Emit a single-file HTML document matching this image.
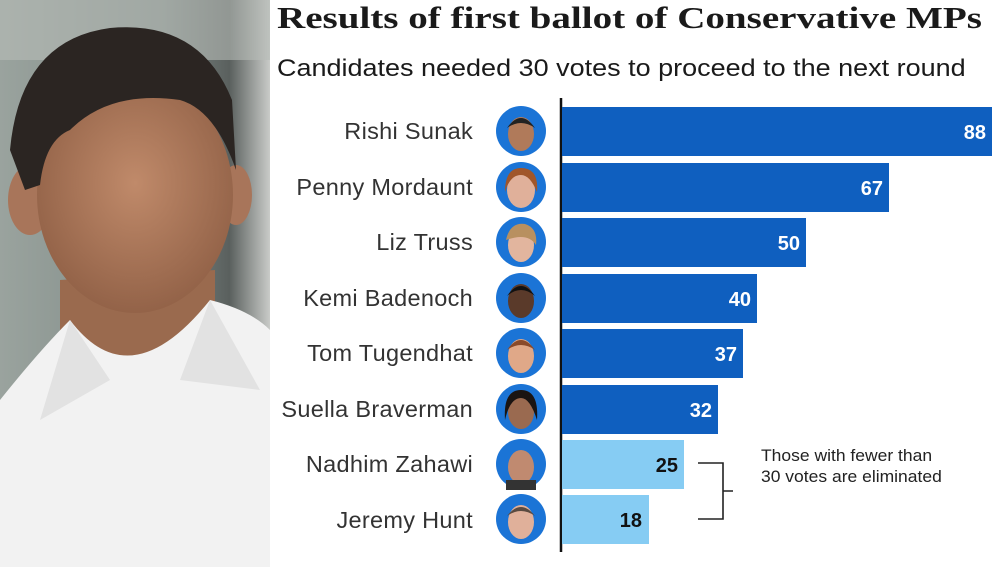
<!DOCTYPE html>
<html><head><meta charset="utf-8"><style>
html,body{margin:0;padding:0;background:#fff;}
body{width:1000px;height:567px;overflow:hidden;position:relative;font-family:"Liberation Sans",sans-serif;}
</style></head><body>
<svg width="1000" height="567" viewBox="0 0 1000 567" xmlns="http://www.w3.org/2000/svg" style="position:absolute;left:0;top:0">
<defs>
<linearGradient id="bg" x1="0" x2="1" y1="0" y2="0">
<stop offset="0" stop-color="#9aa39e"/><stop offset="0.6" stop-color="#7f8a86"/><stop offset="0.85" stop-color="#5a605e"/><stop offset="1" stop-color="#c9cbc8"/></linearGradient>
<radialGradient id="skin" cx="0.5" cy="0.45" r="0.6"><stop offset="0" stop-color="#c08a6a"/><stop offset="1" stop-color="#8f5f45"/></radialGradient>
<clipPath id="pc"><rect x="0" y="0" width="270" height="567"/></clipPath>
</defs>
<g clip-path="url(#pc)">
<rect x="0" y="0" width="270" height="567" fill="url(#bg)"/>
<rect x="0" y="0" width="270" height="60" fill="#b7bcb8" opacity="0.6"/>
<path d="M60 280 L60 360 Q135 420 215 350 L215 270 Z" fill="#9a6a4e"/>
<ellipse cx="30" cy="200" rx="22" ry="35" fill="#a8755a"/>
<ellipse cx="236" cy="195" rx="16" ry="30" fill="#a8755a"/>
<ellipse cx="135" cy="195" rx="98" ry="118" fill="url(#skin)"/>
<path d="M10 150 Q20 40 110 28 Q200 20 232 100 L236 170 Q215 110 180 100 Q110 90 70 130 Q45 140 40 185 L25 190 Z" fill="#2b2522"/>
<path d="M0 567 L0 400 Q40 350 70 320 Q130 400 210 300 Q250 310 270 330 L270 567 Z" fill="#f2f2f2"/>
<path d="M70 320 L40 420 L110 380 Z M210 300 L260 390 L180 380 Z" fill="#e2e2e2"/>
</g>
<text transform="translate(277,28) scale(1.26,1)" font-family="Liberation Serif,serif" font-weight="bold" font-size="31" fill="#1a1a1a">Results of first ballot of Conservative MPs</text>
<text transform="translate(277,76) scale(1.125,1)" font-family="Liberation Sans,sans-serif" font-size="24" fill="#1a1a1a">Candidates needed 30 votes to proceed to the next round</text>
<line x1="561" y1="98" x2="561" y2="552" stroke="#111" stroke-width="2.5"/>
<g font-family="Liberation Sans,sans-serif">
<g font-size="23.5" fill="#333" text-anchor="end" letter-spacing="0.3">
<text x="473" y="139">Rishi Sunak</text>
<text x="473" y="195">Penny Mordaunt</text>
<text x="473" y="250">Liz Truss</text>
<text x="473" y="306">Kemi Badenoch</text>
<text x="473" y="361">Tom Tugendhat</text>
<text x="473" y="417">Suella Braverman</text>
<text x="473" y="472">Nadhim Zahawi</text>
<text x="473" y="528">Jeremy Hunt</text>
</g>
<g fill="#1b74d6">
<circle cx="521" cy="131" r="25"/><circle cx="521" cy="187" r="25"/><circle cx="521" cy="242" r="25"/><circle cx="521" cy="298" r="25"/>
<circle cx="521" cy="353" r="25"/><circle cx="521" cy="409" r="25"/><circle cx="521" cy="464" r="25"/><circle cx="521" cy="519" r="25"/>
</g>
<g>
<ellipse cx="521" cy="134" rx="13" ry="17" fill="#b07a5a"/><path d="M507 128 Q521 108 535 128 Q521 118 507 128Z" fill="#222"/>
<ellipse cx="521" cy="190" rx="14" ry="18" fill="#e0b09a"/><path d="M505 192 Q505 168 521 168 Q539 168 537 192 Q530 175 521 175 Q510 175 505 192Z" fill="#a0562a"/>
<ellipse cx="521" cy="245" rx="13" ry="17" fill="#e2b59e"/><path d="M506 240 Q510 222 525 224 Q538 228 536 245 Q528 232 506 240Z" fill="#b89060"/>
<ellipse cx="521" cy="301" rx="13" ry="17" fill="#5a3a2a"/><path d="M507 296 Q521 276 535 296 Q521 284 507 296Z" fill="#111"/>
<ellipse cx="521" cy="356" rx="13" ry="17" fill="#e0a888"/><path d="M507 350 Q521 330 535 350 Q521 340 507 350Z" fill="#8a4a2a"/>
<ellipse cx="521" cy="412" rx="13" ry="17" fill="#9a6a50"/><path d="M505 420 Q503 390 521 390 Q539 390 537 420 Q530 398 521 398 Q510 398 505 420Z" fill="#1a1412"/>
<ellipse cx="521" cy="467" rx="13" ry="17" fill="#c08a70"/><rect x="506" y="480" width="30" height="10" fill="#333"/>
<ellipse cx="521" cy="522" rx="13" ry="17" fill="#e0b09a"/><path d="M507 516 Q521 498 535 516 Q521 506 507 516Z" fill="#5a4a40"/>
</g>
<g fill="#0f5fbf">
<rect x="562" y="107" width="430" height="49"/>
<rect x="562" y="163" width="327" height="49"/>
<rect x="562" y="218" width="244" height="49"/>
<rect x="562" y="274" width="195" height="49"/>
<rect x="562" y="329" width="181" height="49"/>
<rect x="562" y="385" width="156" height="49"/>
</g>
<g fill="#86ccf3">
<rect x="562" y="440" width="122" height="49"/>
<rect x="562" y="495" width="87" height="49"/>
</g>
<g font-size="20" font-weight="bold" text-anchor="end">
<g fill="#fff">
<text x="986" y="139">88</text><text x="883" y="195">67</text><text x="800" y="250">50</text>
<text x="751" y="306">40</text><text x="737" y="361">37</text><text x="712" y="417">32</text>
</g>
<g fill="#111">
<text x="678" y="472">25</text><text x="642" y="527">18</text>
</g>
</g>
<path d="M698 463 H723 V519 H698 M723 491 H733" fill="none" stroke="#222" stroke-width="1.6"/>
<text transform="translate(761,461) scale(1.06,1)" font-size="16.5" fill="#222">Those with fewer than</text>
<text transform="translate(761,482) scale(1.06,1)" font-size="16.5" fill="#222">30 votes are eliminated</text>
</g>
</svg>
</body></html>
